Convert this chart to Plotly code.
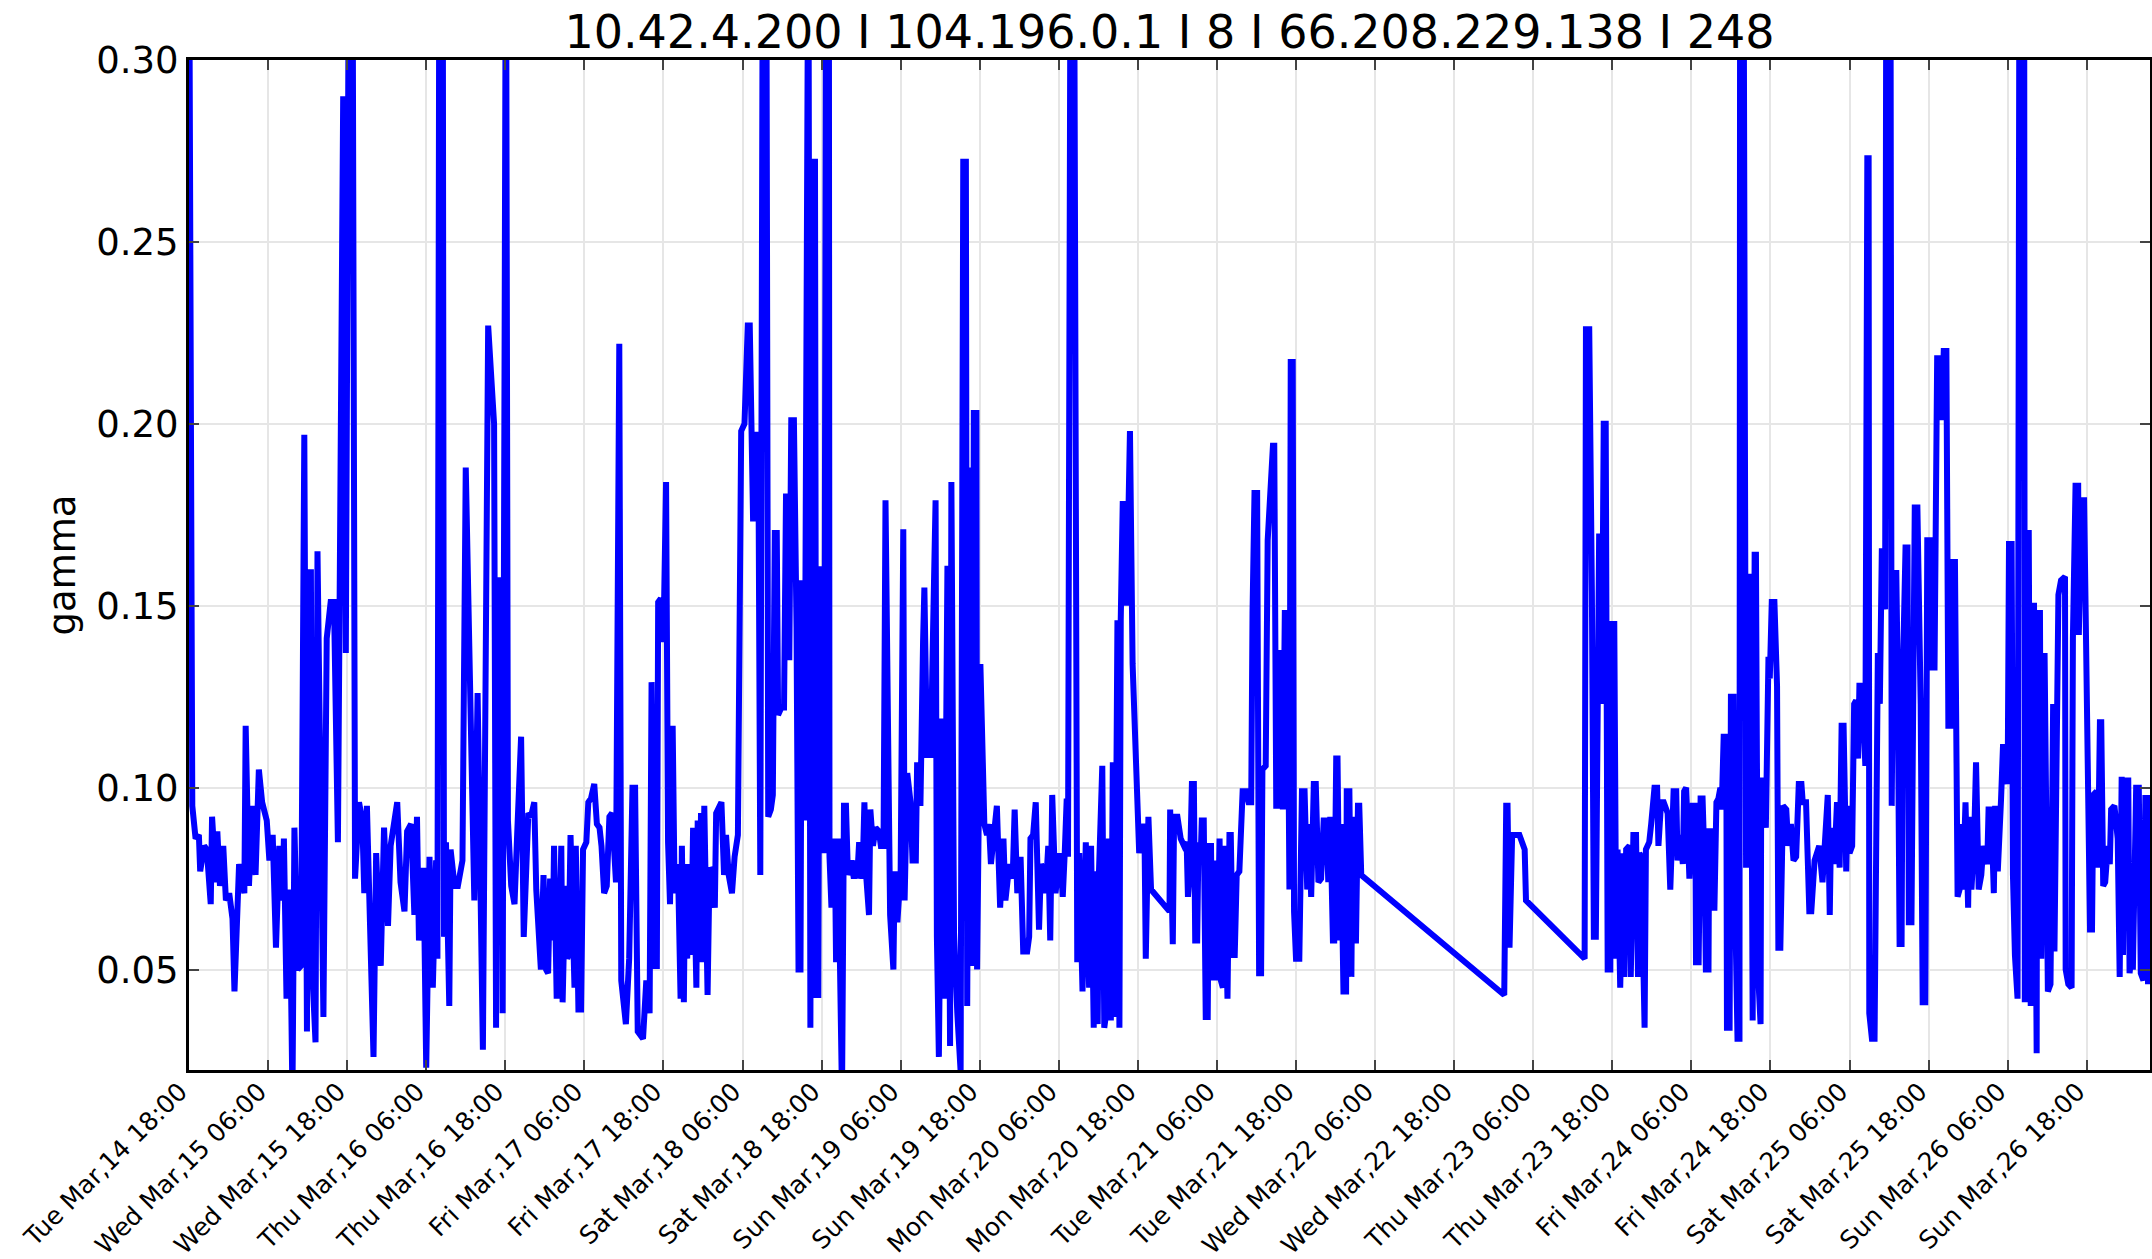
import plotly.graph_objects as go
import pandas as pd

start = pd.Timestamp("2017-03-14 18:00")

# hours since start
hours = [
    0.0, 0.5, 1.0, 1.5, 1.7, 2.3, 2.7, 3.3, 3.5, 4.1, 4.3, 4.7, 5.2, 5.6, 6.1, 6.6, 6.9, 7.6, 8.4, 8.6,
    9.1, 9.6, 10.1, 10.6, 11.1, 11.8, 12.2, 12.7, 13.2, 13.7, 14.2, 14.4, 14.8, 15.3, 15.7, 16.0, 16.5, 17.0,
    17.5, 17.9, 18.1, 18.5, 18.7, 19.2, 19.5, 20.0, 20.4, 20.9, 21.5, 22.0, 22.6, 23.4, 23.8, 24.3, 24.8,
    25.2, 25.8, 26.3, 26.6, 27.0, 27.3, 28.0, 28.4, 29.1, 29.6, 30.2, 30.6, 31.1, 31.6, 32.1, 32.7, 33.1,
    33.7, 34.2, 34.6, 34.9, 35.6, 36.0, 36.5, 37.0, 37.5, 37.7, 38.0, 38.5, 38.7, 39.0, 39.5, 39.7, 40.3,
    40.8, 41.5, 42.0, 42.5, 43.3, 43.8, 44.6, 45.4, 46.3, 46.6, 46.8, 47.3, 47.6, 48.1, 48.4, 48.9, 49.4,
    49.8, 50.4, 50.8,
    51.5, 51.9, 52.4, 52.7, 52.9, 53.4, 53.8, 54.2, 54.5, 54.8, 55.2, 55.4, 55.8, 56.2, 56.5, 56.7, 57.1,
    57.4, 57.6, 57.9, 58.2, 58.5, 58.7, 59.1, 59.5, 59.8, 60.3, 60.6, 61.0, 61.5, 61.9, 62.3, 62.6, 63.0,
    63.4, 63.8, 64.2, 64.6, 64.8, 65.3, 65.6, 66.3, 66.8, 67.3, 67.7, 68.1, 68.9, 69.4, 69.9, 70.2, 70.6,
    71.0, 71.2, 71.6, 72.0, 72.4, 72.7, 73.0, 73.4, 73.7, 74.2, 74.6, 74.8, 75.1, 75.3, 75.6, 76.0, 76.2,
    76.5, 77.0, 77.2, 77.5, 77.7, 78.0, 78.2, 78.7, 79.0, 79.3, 79.8, 80.0, 80.8, 81.2, 81.5, 81.9, 82.4,
    82.8, 83.3, 83.8, 84.3, 84.8, 85.1, 85.6, 85.8, 86.1, 86.4, 86.7, 87.1, 87.6, 87.9, 88.3, 88.6, 88.9,
    89.2, 89.4, 89.9, 90.3, 90.6, 91.0, 91.1, 91.4, 91.8, 92.2, 92.5, 92.8, 93.0, 93.4, 93.8, 94.0, 94.3,
    94.7, 95.0, 95.2, 95.5, 95.7, 96.1, 96.4, 96.7, 97.1, 97.2, 97.5, 98.0, 98.2, 98.5, 98.7, 99.1, 99.4,
    99.7, 100.0, 100.5, 100.9,
    101.2, 101.4, 101.7, 102.2, 102.5, 102.8, 103.2, 103.4, 103.8, 104.2, 104.7, 105.0, 105.4, 105.7,
    106.0, 106.4, 106.9, 107.1, 107.5, 108.0, 108.4, 108.6, 109.0, 109.5, 109.8, 110.3, 110.5, 111.0,
    111.4, 111.6, 112.0, 112.6, 112.8, 113.3, 113.5, 113.8, 114.3, 114.6, 115.1, 115.5, 115.7, 116.1,
    116.6, 117.1, 117.5, 117.9, 118.1, 118.5, 118.9, 119.1, 119.5, 119.6, 120.1, 120.4, 120.7, 121.1,
    121.4, 121.7, 122.1, 122.6, 123.1, 123.6, 123.9, 124.5, 125.0, 125.3, 125.7, 126.2, 126.6, 127.2,
    127.5, 127.7, 128.1, 128.5, 129.0, 129.3, 129.7, 130.0, 130.4, 130.7, 131.0, 131.5, 132.2, 132.6,
    132.9, 133.2, 133.4, 133.8, 134.3, 134.6, 134.8, 135.1, 135.6, 136.1, 136.6, 136.9, 137.3, 137.6,
    137.9, 138.1, 138.6, 138.9, 139.4, 139.6, 139.9, 140.2, 140.5, 140.9, 141.2, 141.4, 141.7, 142.0,
    142.3, 142.8, 143.2, 144.2, 144.7, 145.0, 145.2, 145.6, 146.0, 148.8, 148.9, 149.3, 149.5, 150.0,
    150.5, 151.0,
    151.4, 151.6, 151.9, 152.2, 152.5, 152.7, 153.0, 153.2, 153.5, 153.7, 154.0, 154.3, 154.6, 154.8,
    155.1, 155.3, 155.6, 156.0, 156.4, 156.6, 156.9, 157.1, 157.4, 157.6, 157.9, 158.1, 158.4, 158.7,
    159.0, 159.4, 159.9, 160.4, 160.8, 161.2, 161.4, 161.7, 162.1, 162.4, 162.7, 162.9, 163.4, 163.7,
    164.5, 164.7, 165.0, 165.2, 165.5, 165.7, 166.0, 166.3, 166.7, 167.0, 167.2, 167.5, 167.7, 168.0,
    168.5, 168.9, 169.3, 169.7, 170.0, 170.3, 170.7, 171.0, 171.4, 171.8, 172.2, 172.6, 172.9, 173.2,
    173.6, 173.8, 174.1, 174.3, 174.6, 174.8, 175.2, 175.6, 175.7, 176.1, 176.4, 176.6, 176.9, 177.1,
    177.4, 177.6, 177.9, 199.6, 199.9, 200.1, 200.4, 200.8, 201.2,
    201.5, 201.9, 202.1, 202.4, 202.7, 202.9, 211.8, 212.0, 212.5, 212.9, 213.2, 213.5, 213.8, 214.0,
    214.3, 214.4, 214.7, 215.0, 215.3, 215.7, 215.9, 216.3, 216.6, 216.8, 217.2, 217.6, 217.8, 218.1,
    218.6, 218.8, 219.2, 219.6, 219.9, 220.1, 220.4, 220.9, 221.1, 221.6, 221.9, 222.4, 222.8, 223.0,
    223.4, 223.8, 224.2, 224.4, 224.8, 225.3, 225.7, 225.9, 226.3, 226.7, 226.9, 227.2, 227.4, 227.7,
    228.2, 228.6, 228.7, 229.1, 229.4, 229.7, 230.0, 230.2, 230.6, 230.7, 231.0, 231.2, 231.5, 231.8,
    232.1, 232.4, 232.6, 232.9, 233.3, 233.4, 233.8, 234.0, 234.4, 234.6, 235.0, 235.3, 235.4, 235.9,
    236.3, 236.6, 237.0, 237.1, 237.3, 237.6, 237.8, 238.1, 238.5, 238.6, 238.8, 239.3, 239.5, 239.7,
    239.9, 240.2, 240.6, 241.0, 241.2, 241.5, 241.9, 242.4, 242.7, 243.1, 243.5, 243.9, 244.3, 244.7,
    244.9, 245.4, 245.9, 246.2, 246.7, 247.4, 247.9, 248.5, 248.7, 249.0, 249.2, 249.7, 250.1, 250.5,
    250.8, 251.1,
    251.5, 251.7, 252.0, 252.4, 252.7, 253.0, 253.3, 253.5, 253.8, 254.2, 254.4, 254.7, 254.9, 255.0,
    255.4, 255.8, 256.1, 256.3, 256.6, 256.9, 257.2, 257.4, 257.6, 258.2, 258.4, 258.7, 259.1, 259.3,
    259.6, 259.9, 260.1, 260.5, 260.8, 261.0, 261.4, 261.9, 262.3, 262.8, 263.1, 263.5, 263.8, 264.2,
    264.4, 264.9, 265.3, 265.8, 266.0, 266.3, 266.7, 267.0, 267.4, 267.7, 268.0, 268.4, 268.7, 269.0,
    269.2, 269.6, 270.0, 270.2, 270.5, 270.9, 271.2, 271.6, 272.0, 272.3, 272.9, 273.1, 273.5, 273.9,
    274.1, 274.5, 275.0, 275.3, 275.6, 276.0, 276.2, 276.6, 276.8, 277.1, 277.5, 277.8, 278.5, 278.6,
    278.8, 279.2, 279.5, 279.7, 280.0, 280.4, 280.5, 280.9, 281.1, 281.4, 281.6, 281.9, 282.1, 282.5,
    282.9, 283.1, 283.5, 283.7, 284.1, 284.7, 284.8, 285.2, 285.7, 285.9, 286.3, 286.7, 286.8, 287.2,
    287.6, 287.8, 288.2, 288.5, 288.8, 289.0, 289.5, 289.7, 290.0, 290.2, 290.5, 290.8, 291.2, 291.5,
    291.7, 292.2, 292.7, 293.0, 293.3, 293.5, 293.8, 294.3, 294.5, 294.8, 295.0, 295.5, 295.9, 296.2,
    296.6, 296.9, 297.3, 297.6,
]

gamma = [
    0.35, 0.095, 0.086, 0.087, 0.077, 0.084, 0.083, 0.068, 0.092, 0.074, 0.088, 0.073, 0.084, 0.069, 0.071,
    0.064, 0.044, 0.079, 0.071, 0.117, 0.073, 0.095, 0.076, 0.105, 0.096, 0.091, 0.080, 0.087, 0.056, 0.084,
    0.069, 0.086, 0.042, 0.072, 0.015, 0.089, 0.050, 0.051, 0.197, 0.033, 0.139, 0.160, 0.050, 0.030, 0.165,
    0.072, 0.037, 0.141, 0.151, 0.151, 0.085, 0.290, 0.137, 0.35, 0.35, 0.075, 0.096, 0.091, 0.071, 0.095,
    0.070, 0.026, 0.082, 0.051, 0.089, 0.062, 0.084, 0.090, 0.096, 0.074, 0.066, 0.088, 0.090, 0.065, 0.092,
    0.058, 0.078, 0.023, 0.081, 0.045, 0.080, 0.053, 0.35, 0.35, 0.059, 0.085, 0.040, 0.083, 0.073, 0.073,
    0.080, 0.188, 0.142, 0.069, 0.126, 0.028, 0.227, 0.200, 0.034, 0.157, 0.157, 0.038, 0.35, 0.091, 0.073,
    0.068, 0.087, 0.114, 0.059,
    0.093, 0.092, 0.096, 0.072, 0.066, 0.050, 0.076, 0.050, 0.049, 0.075, 0.058, 0.084, 0.042, 0.058, 0.084,
    0.041, 0.073, 0.053, 0.054, 0.087, 0.054, 0.045, 0.084, 0.039, 0.039, 0.083, 0.085, 0.096, 0.097, 0.101,
    0.090, 0.089, 0.084, 0.071, 0.073, 0.092, 0.093, 0.074, 0.074, 0.222, 0.047, 0.035, 0.053, 0.100, 0.100,
    0.033, 0.031, 0.047, 0.038, 0.129, 0.051, 0.051, 0.151, 0.152, 0.140, 0.184, 0.085, 0.068, 0.117, 0.071,
    0.079, 0.042, 0.084, 0.041, 0.079, 0.053, 0.079, 0.054, 0.089, 0.045, 0.091, 0.052, 0.093, 0.052, 0.095,
    0.043, 0.078, 0.077, 0.067, 0.093, 0.096, 0.076, 0.087, 0.076, 0.071, 0.081, 0.087, 0.198, 0.200, 0.227,
    0.227, 0.174, 0.174, 0.197, 0.197, 0.076, 0.35, 0.35, 0.092, 0.094, 0.098, 0.170, 0.170, 0.120, 0.122,
    0.122, 0.180, 0.180, 0.135, 0.201, 0.201, 0.144, 0.050, 0.050, 0.157, 0.091, 0.35, 0.35, 0.034, 0.272,
    0.272, 0.043, 0.043, 0.160, 0.160, 0.082, 0.35, 0.35, 0.081, 0.067, 0.086, 0.052, 0.086, 0.050, 0.015,
    0.095, 0.095, 0.076, 0.080, 0.075,
    0.080, 0.075, 0.085, 0.075, 0.096, 0.075, 0.065, 0.094, 0.084, 0.089, 0.088, 0.084, 0.084, 0.179, 0.112,
    0.065, 0.050, 0.077, 0.063, 0.077, 0.171, 0.069, 0.104, 0.096, 0.080, 0.080, 0.107, 0.095, 0.140, 0.155,
    0.109, 0.109, 0.132, 0.179, 0.059, 0.026, 0.119, 0.042, 0.161, 0.029, 0.184, 0.060, 0.038, 0.022, 0.272,
    0.272, 0.040, 0.188, 0.051, 0.203, 0.203, 0.050, 0.134, 0.105, 0.090, 0.087, 0.090, 0.079, 0.088, 0.095,
    0.067, 0.086, 0.069, 0.079, 0.075, 0.094, 0.071, 0.081, 0.055, 0.055, 0.059, 0.086, 0.087, 0.096, 0.061,
    0.079, 0.077, 0.071, 0.084, 0.058, 0.098, 0.071, 0.082, 0.070, 0.082, 0.097, 0.081, 0.35, 0.35, 0.070,
    0.052, 0.082, 0.044, 0.085, 0.045, 0.084, 0.034, 0.077, 0.035, 0.077, 0.106, 0.034, 0.041, 0.086, 0.036,
    0.107, 0.037, 0.146, 0.034, 0.146, 0.178, 0.178, 0.150, 0.198, 0.134, 0.082, 0.090, 0.088, 0.053, 0.092,
    0.072, 0.066, 0.094, 0.057, 0.092, 0.092, 0.086, 0.084,
    0.085, 0.070, 0.077, 0.101, 0.101, 0.058, 0.058, 0.085, 0.079, 0.091, 0.091, 0.037, 0.037, 0.084, 0.084,
    0.047, 0.080, 0.047, 0.086, 0.047, 0.045, 0.084, 0.042, 0.042, 0.087, 0.087, 0.054, 0.054, 0.076, 0.077,
    0.099, 0.099, 0.096, 0.096, 0.148, 0.181, 0.181, 0.049, 0.049, 0.105, 0.106, 0.168, 0.194, 0.194, 0.095,
    0.095, 0.137, 0.137, 0.094, 0.148, 0.148, 0.072, 0.217, 0.217, 0.066, 0.053, 0.053, 0.099, 0.099, 0.072,
    0.090, 0.070, 0.101, 0.101, 0.074, 0.075, 0.091, 0.091, 0.074, 0.092, 0.058, 0.058, 0.108, 0.108, 0.058,
    0.090, 0.044, 0.044, 0.099, 0.099, 0.048, 0.092, 0.058, 0.058, 0.095, 0.095, 0.076, 0.043, 0.095, 0.095,
    0.056, 0.087, 0.087,
    0.087, 0.087, 0.086, 0.084, 0.083, 0.069, 0.053, 0.226, 0.226, 0.154, 0.059, 0.059, 0.153, 0.169, 0.169,
    0.123, 0.200, 0.200, 0.050, 0.050, 0.145, 0.145, 0.053, 0.083, 0.045, 0.082, 0.048, 0.083, 0.084, 0.048,
    0.087, 0.087, 0.048, 0.082, 0.081, 0.034, 0.083, 0.085, 0.090, 0.100, 0.100, 0.084, 0.096, 0.096, 0.094,
    0.093, 0.072, 0.099, 0.099, 0.080, 0.087, 0.079, 0.099, 0.100, 0.091, 0.075, 0.095, 0.095, 0.052, 0.052,
    0.097, 0.097, 0.079, 0.050, 0.050, 0.088, 0.088, 0.067, 0.067, 0.096, 0.097, 0.100, 0.094, 0.114, 0.114,
    0.034, 0.034, 0.125, 0.125, 0.072, 0.031, 0.031, 0.35, 0.35, 0.078, 0.158, 0.158, 0.036, 0.036, 0.164,
    0.164, 0.050, 0.035, 0.102, 0.102, 0.089, 0.136, 0.136, 0.130, 0.151, 0.151, 0.128, 0.056, 0.056, 0.095,
    0.094, 0.084, 0.090, 0.080, 0.081, 0.101, 0.101, 0.096, 0.096, 0.066, 0.066, 0.080, 0.084, 0.074, 0.098,
    0.098, 0.065, 0.089, 0.079, 0.096, 0.078, 0.117, 0.117,
    0.077, 0.095, 0.082, 0.084, 0.123, 0.124, 0.108, 0.128, 0.128, 0.115, 0.106, 0.273, 0.273, 0.038, 0.031,
    0.031, 0.137, 0.137, 0.123, 0.165, 0.165, 0.149, 0.35, 0.35, 0.095, 0.159, 0.159, 0.132, 0.057, 0.057,
    0.132, 0.166, 0.166, 0.063, 0.063, 0.177, 0.177, 0.123, 0.041, 0.041, 0.168, 0.168, 0.133, 0.133, 0.218,
    0.218, 0.201, 0.220, 0.220, 0.117, 0.117, 0.162, 0.162, 0.070, 0.072, 0.090, 0.072, 0.096, 0.067, 0.092,
    0.072, 0.085, 0.107, 0.072, 0.076, 0.084, 0.079, 0.094, 0.094, 0.071, 0.095, 0.077, 0.097, 0.112, 0.106,
    0.101, 0.167, 0.167, 0.076, 0.054, 0.042, 0.35, 0.35, 0.041, 0.170, 0.170, 0.040, 0.150, 0.150, 0.027,
    0.148, 0.148, 0.053, 0.137, 0.137, 0.084, 0.044, 0.046, 0.123, 0.055, 0.123, 0.153, 0.157, 0.158, 0.050,
    0.046, 0.045, 0.141, 0.183, 0.183, 0.142, 0.179, 0.179, 0.148, 0.119, 0.061, 0.061, 0.098, 0.099, 0.078,
    0.118, 0.118, 0.073, 0.074, 0.084, 0.079, 0.094, 0.095, 0.086, 0.048, 0.103, 0.054, 0.102, 0.102, 0.049,
    0.054, 0.050, 0.100, 0.100, 0.049, 0.047, 0.098, 0.046, 0.098,
]

times = start + pd.to_timedelta(hours, unit="h")

fig = go.Figure()
fig.add_trace(go.Scatter(
    x=times,
    y=gamma,
    mode="lines",
    line=dict(color="#0000ff", width=6),
    showlegend=False,
))

font = "DejaVu Sans"
fig.update_layout(
    width=2152,
    height=1259,
    margin=dict(l=189, r=2, t=60, b=189),
    paper_bgcolor="white",
    plot_bgcolor="white",
    font=dict(family=font, color="black"),
    title=dict(
        text="10.42.4.200 I 104.196.0.1 I 8 I 66.208.229.138 I 248",
        x=0.5, xref="paper", xanchor="center",
        y=1, yref="paper", yanchor="bottom",
        pad=dict(b=12),
        font=dict(family=font, size=46),
    ),
    xaxis=dict(
        range=[start, start + pd.Timedelta(hours=297.6)],
        tick0=start,
        dtick=12 * 3600 * 1000,
        tickformat="%a %b,%d %H:%M",
        tickangle=-45,
        tickfont=dict(size=25),
        ticklabelstandoff=-6,
        ticklabelshift=-9,
        ticks="inside",
        ticklen=10,
        tickwidth=2,
        showline=True,
        linecolor="black",
        linewidth=3,
        mirror="ticks",
        showgrid=True,
        gridcolor="#e6e6e6",
        gridwidth=1.5,
        zeroline=False,
        automargin=False,
    ),
    yaxis=dict(
        range=[0.0224, 0.30],
        tickvals=[0.05, 0.10, 0.15, 0.20, 0.25, 0.30],
        tickformat=".2f",
        tickfont=dict(size=37),
        ticks="inside",
        ticklen=10,
        tickwidth=2,
        showline=True,
        linecolor="black",
        linewidth=3,
        mirror="ticks",
        showgrid=True,
        gridcolor="#e6e6e6",
        gridwidth=1.5,
        zeroline=False,
        automargin=False,
        title=dict(text="gamma", font=dict(size=37), standoff=10),
    ),
)

fig.write_html(
    "out.html",
    config={"displayModeBar": False},
    post_script="document.body.style.margin='0';document.body.style.padding='0';",
)
